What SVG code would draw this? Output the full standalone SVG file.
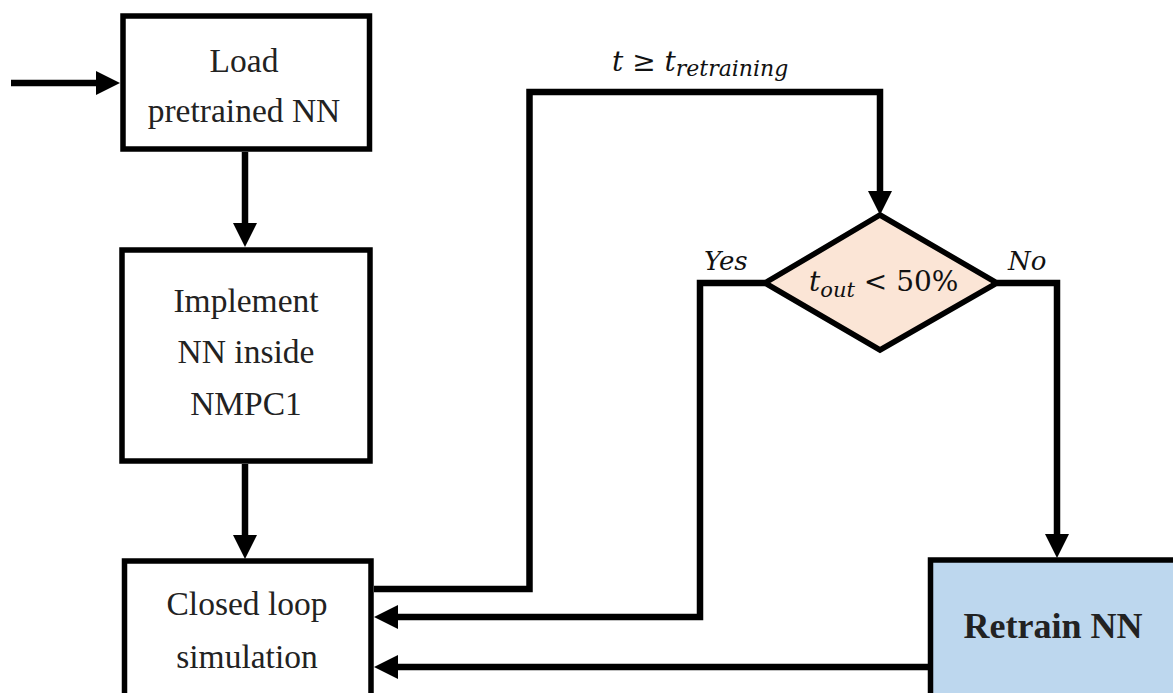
<svg xmlns="http://www.w3.org/2000/svg" width="1173" height="693" viewBox="0 0 1173 693">
<style>
.box{fill:#fff;stroke:#000;stroke-width:5.5}
.t{font-family:'Liberation Serif','DejaVu Serif',serif;font-size:33.5px;fill:#222;text-anchor:middle}
.m{font-family:'DejaVu Serif',serif;font-style:italic;fill:#111}
.c{fill:none;stroke:#000;stroke-width:6.5;stroke-linejoin:miter}
</style>
<defs>
<marker id="ah" markerUnits="userSpaceOnUse" markerWidth="26" markerHeight="26" refX="0" refY="12" orient="auto" overflow="visible">
<path d="M0,0 L24,12 L0,24 z" fill="#000"/>
</marker>
</defs>
<rect width="1173" height="693" fill="#fff"/>
<g id="n-load">
<rect class="box" x="123" y="16" width="246.5" height="133"/>
<text class="t" x="244" y="72">Load</text>
<text class="t" x="244" y="122">pretrained NN</text>
</g>
<g id="n-implement">
<rect class="box" x="122" y="250" width="248" height="211"/>
<text class="t" x="246" y="312">Implement</text>
<text class="t" x="246" y="363">NN inside</text>
<text class="t" x="246" y="415">NMPC1</text>
</g>
<g id="n-closed">
<rect class="box" x="124.5" y="561" width="246.5" height="150"/>
<text class="t" x="247" y="615">Closed loop</text>
<text class="t" x="247" y="668">simulation</text>
</g>
<g id="n-decision">
<polygon points="880,215 997,283 880,350 765,283" fill="#fbe5d6" stroke="#000" stroke-width="5.5" stroke-linejoin="miter"/>
<text class="m" x="809" y="291" font-size="28">t<tspan font-size="21" dy="6">out</tspan><tspan font-style="normal" font-size="28" dy="-6"> &lt; 50%</tspan></text>
</g>
<g id="n-retrain">
<rect x="930.5" y="560" width="260" height="150" fill="#bdd7ee" stroke="#000" stroke-width="5.5"/>
<text x="1053" y="638" font-family="'Liberation Serif','DejaVu Serif',serif" font-weight="bold" font-size="36" text-anchor="middle" fill="#222">Retrain NN</text>
</g>
<g id="connectors">
<path class="c" d="M11,83 H96" marker-end="url(#ah)"/>
<path class="c" d="M245,152 V223" marker-end="url(#ah)"/>
<path class="c" d="M245,464 V535" marker-end="url(#ah)"/>
<path class="c" d="M374,589 H529.5 V92 H880 V191" marker-end="url(#ah)"/>
<path class="c" d="M765,283 H700 V617 H398" marker-end="url(#ah)"/>
<path class="c" d="M997,283 H1057 V534" marker-end="url(#ah)"/>
<path class="c" d="M928,667 H398" marker-end="url(#ah)"/>
</g>
<g id="labels">
<text class="m" x="612" y="71" font-size="28">t <tspan font-style="normal">≥</tspan> t<tspan font-size="22" dy="5">retraining</tspan></text>
<text class="m" x="704" y="270" font-size="26">Yes</text>
<text class="m" x="1008" y="270" font-size="26">No</text>
</g>
</svg>
